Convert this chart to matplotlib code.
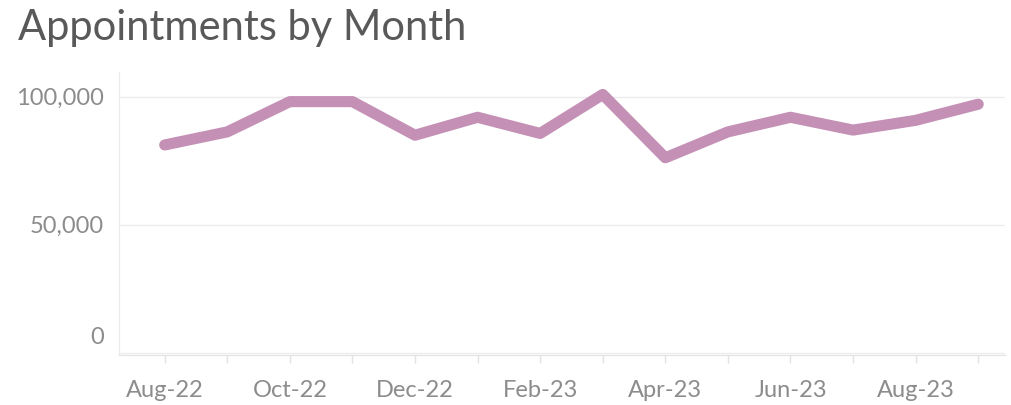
import matplotlib.pyplot as plt
from matplotlib.ticker import FuncFormatter
from matplotlib.transforms import ScaledTranslation

months = ['Aug-22', 'Sep-22', 'Oct-22', 'Nov-22', 'Dec-22', 'Jan-23', 'Feb-23',
          'Mar-23', 'Apr-23', 'May-23', 'Jun-23', 'Jul-23', 'Aug-23', 'Sep-23']
appointments = [81100, 86200, 98000, 98000, 84900, 91900, 85600,
                100800, 76100, 86200, 91900, 86900, 90700, 97000]

plt.rcParams['font.family'] = ['Lato', 'DejaVu Sans']

fig = plt.figure(figsize=(10.12, 4.05), dpi=100)
ax = fig.add_axes([0.1176, 0.1235, 0.875, 0.699])

x = list(range(len(months)))
ax.plot(x, appointments, color='#c490b5', linewidth=8,
        solid_capstyle='round', solid_joinstyle='round', zorder=3)

ax.set_xlim(-0.73, 13.42)
ax.set_ylim(-800, 109600)

ax.set_yticks([0, 50000, 100000])
ax.yaxis.set_major_formatter(FuncFormatter(lambda v, p: f'{int(v):,}'))
ax.grid(axis='y', color='#ececec', linewidth=1)
ax.set_axisbelow(True)

ax.set_xticks(x[::2])
ax.set_xticklabels(months[::2])
ax.set_xticks(x, minor=True)

ax.tick_params(axis='y', length=0, pad=11, labelsize=17, labelcolor='#8c8c8c')
ax.tick_params(axis='x', which='both', length=6, color='#e2e2e2', width=1,
               pad=12, labelsize=17, labelcolor='#8c8c8c')

for s in ['top', 'right']:
    ax.spines[s].set_visible(False)
ax.spines['left'].set_color('#ececec')
ax.spines['bottom'].set_color('#e2e2e2')

# Tableau nudges the bottom axis label up
lab0 = ax.get_yticklabels()[0]
lab0.set_transform(lab0.get_transform() + ScaledTranslation(0, 0.17, fig.dpi_scale_trans))

fig.text(0.018, 0.93, 'Appointments by Month', fontsize=30, color='#595959',
         ha='left', va='center')

fig.savefig('out.png', dpi=100)
